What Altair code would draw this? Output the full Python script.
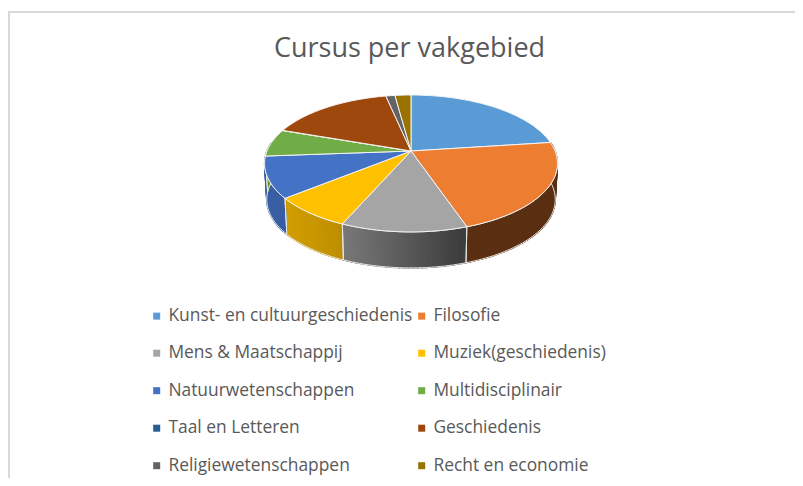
import math
import altair as alt

categories = ["Kunst- en cultuurgeschiedenis", "Filosofie", "Mens & Maatschappij", "Muziek(geschiedenis)",
              "Natuurwetenschappen", "Multidisciplinair", "Taal en Letteren", "Geschiedenis",
              "Religiewetenschappen", "Recht en economie"]
shares = [22.9, 21.9, 11.7, 7.6, 9.7, 6.5, 0.05, 16.35, 1.2, 2.1]
colors = ["#5B9BD5", "#ED7D31", "#A5A5A5", "#FFC000", "#4472C4", "#70AD47", "#255E91", "#9E480E", "#636363", "#997300"]
TEXT = "#595959"

# oblique view of the disc (chart pixels)
CX, CY, RX, RY, K, DEPTH, SHRINK = 403.0, 143.0, 144.0, 66.2, 0.182, 36.0, 0.985

def top(t):
    u, v = math.sin(t), -math.cos(t)
    f = 1 / (1 - K * v)
    return CX + RX * u * f, CY + RY * v * f

def bottom(t):
    x, y = top(t)
    return CX + (x - CX) * SHRINK, y + DEPTH

def shade_factor(x):
    xs = [256, 333, 460, 800]
    fs = [0.86, 0.76, 0.38, 0.38]
    for i in range(3):
        if x <= xs[i + 1]:
            return fs[i] + (fs[i + 1] - fs[i]) * (x - xs[i]) / (xs[i + 1] - xs[i])
    return fs[-1]

def shade(hexcol, x):
    f = shade_factor(x)
    r, g, b = [int(hexcol[i:i + 2], 16) for i in (1, 3, 5)]
    return "#%02x%02x%02x" % (int(r * f), int(g * f), int(b * f))

def feature(points, **props):
    pts = [list(p) for p in points] + [list(points[0])]
    return {"type": "Feature", "geometry": {"type": "Polygon", "coordinates": [pts]}, "properties": props}

total = sum(shares)
WALL_A, WALL_B = math.radians(84), math.radians(276)
faces, walls, outlines = [], [], []
acc = 0.0
for name, share, col in zip(categories, shares, colors):
    a0 = acc / total * 2 * math.pi
    acc += share
    a1 = acc / total * 2 * math.pi
    n = max(2, int((a1 - a0) / math.radians(1.5)))
    arc = [a0 + (a1 - a0) * i / n for i in range(n + 1)]
    faces.append(feature([(CX, CY)] + [top(t) for t in arc], name=name))
    w0, w1 = max(a0, WALL_A), min(a1, WALL_B)
    if w1 > w0:
        m = max(1, int((w1 - w0) / math.radians(1.5)))
        ws = [w0 + (w1 - w0) * i / m for i in range(m + 1)]
        for s, e in zip(ws[:-1], ws[1:]):
            c = shade(col, (top(s)[0] + top(e)[0]) / 2 + 8)
            walls.append(feature([top(s), top(e), bottom(e), bottom(s)], wall=c))
        outlines.append(feature([top(t) for t in ws] + [bottom(t) for t in reversed(ws)], name=name))

proj = dict(type="identity", scale=1, translate=[0, 0])

wall_layer = alt.Chart(alt.Data(values=walls)).mark_geoshape(strokeWidth=1.3).encode(
    color=alt.Color("properties.wall:N", scale=None, legend=None),
    stroke=alt.Stroke("properties.wall:N", scale=None, legend=None),
).project(**proj)

outline_layer = alt.Chart(alt.Data(values=outlines)).mark_geoshape(
    filled=False, stroke="#e8e8e8", strokeWidth=1
).project(**proj)

face_layer = alt.Chart(alt.Data(values=faces)).mark_geoshape(stroke="#f4f4f4", strokeWidth=1).encode(
    fill=alt.Fill("properties.name:N",
                  scale=alt.Scale(domain=categories, range=colors),
                  legend=alt.Legend(title=None, orient="none", legendX=140, legendY=299, columns=2,
                                    direction="horizontal",
                                    symbolType="square", symbolSize=49, symbolStrokeWidth=0,
                                    labelFont="Open Sans", labelFontSize=17.4, labelColor=TEXT,
                                    labelLimit=400, labelOffset=3,
                                    rowPadding=18.5, columnPadding=-1)),
).project(**proj)

left_rule = alt.Chart(alt.Data(values=[{"a": 1}])).mark_rule(color="#d9d9d9", strokeWidth=2).encode(
    x=alt.value(1), y=alt.value(3), y2=alt.value(470))
top_rule = alt.Chart(alt.Data(values=[{"a": 1}])).mark_rule(color="#d9d9d9", strokeWidth=2).encode(
    x=alt.value(0), x2=alt.value(787), y=alt.value(4))

chart = alt.layer(left_rule, top_rule, wall_layer, outline_layer, face_layer).properties(
    width=787, height=470, padding=0, autosize=alt.AutoSizeParams(type="none"),
    title=alt.TitleParams("Cursus per vakgebied", font="Open Sans", fontSize=27, fontWeight="normal",
                          color=TEXT, anchor="middle", dx=8, dy=59),
).configure_view(stroke=None)

chart.save("out.html", embed_options={"renderer": "svg", "actions": False})
